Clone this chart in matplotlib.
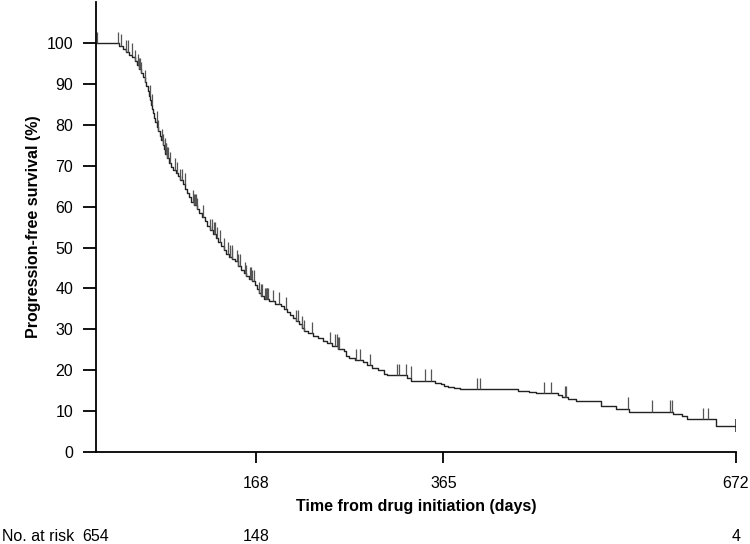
import numpy as np
import matplotlib
matplotlib.use('Agg')
import matplotlib.pyplot as plt
from matplotlib.transforms import blended_transform_factory

plt.rcParams['font.family'] = ['Liberation Sans', 'DejaVu Sans']

# step knots of the Kaplan-Meier curve (days, % progression-free)
times = [0, 24, 28, 31, 35, 38, 41, 43, 45, 47, 49, 51, 53, 54.5, 56, 57, 58, 59, 60, 61,
         62, 64, 65.5, 67, 68.5, 70, 71, 73, 75, 77, 79, 81, 84, 86, 88, 91, 94, 96, 98, 100,
         103, 106, 108, 111, 114, 117, 120, 123, 126, 128, 131, 134, 137, 140, 143, 146, 149,
         152, 155, 158, 161, 164, 167, 169, 171, 173, 176, 182, 188, 194, 198, 201, 204, 207,
         210, 213, 216, 219, 223, 228, 233, 238, 243, 248, 254, 260, 263, 266, 272, 280, 285,
         290, 296, 302, 306, 327, 331, 356, 362, 366, 370, 376, 382, 443, 455, 462, 485, 490,
         496, 504, 530, 546, 560, 606, 616, 621, 651, 672]
surv = [100, 99.3, 98.6, 97.9, 97.2, 96.5, 95.6, 94.6, 93.6, 92.6, 91.6, 90.6, 89.5, 88.3,
        87.0, 86.0, 84.8, 83.8, 83.0, 81.8, 80.6, 79.6, 78.5, 77.4, 76.2, 75.0, 74.0, 72.8,
        71.8, 70.6, 69.8, 69.0, 68.2, 67.4, 66.5, 65.5, 64.4, 63.3, 62.3, 61.2, 60.3, 59.4,
        58.5, 57.5, 56.5, 55.3, 54.3, 53.4, 52.3, 51.4, 50.3, 49.5, 48.5, 47.8, 47.2, 46.6,
        45.6, 44.6, 43.7, 43.0, 42.4, 41.8, 40.8, 39.8, 38.8, 38.2, 37.4, 36.9, 36.3, 35.8,
        35.0, 34.2, 33.6, 32.8, 32.0, 31.2, 30.4, 29.5, 29.0, 28.5, 27.9, 27.2, 26.6, 26.0,
        25.3, 24.6, 23.6, 23.0, 22.5, 22.0, 21.2, 20.5, 20.0, 19.2, 18.8, 18.2, 17.4, 17.0,
        16.6, 16.2, 15.9, 15.6, 15.4, 14.9, 14.6, 14.4, 13.9, 13.4, 13.0, 12.5, 11.2, 10.6,
        9.9, 9.3, 8.8, 8.0, 6.4, 6.4]

# censored observations (days)
censored = [1, 23.5, 26, 31.5, 34, 37.5, 41, 44.5, 45.5, 46.5, 47, 51.5, 56.7, 58.5, 63.7,
            65.5, 69, 70.7, 72.5, 73.5, 74, 75, 76, 77.7, 83, 85.4, 88, 90, 93.5, 102, 103,
            104, 105, 106, 112.7, 120, 122, 124, 125, 127, 130, 134, 139, 141, 142.5, 143,
            148, 149.5, 151, 156.5, 158, 162, 162.5, 164, 166, 171.5, 173, 174, 177.5, 178.5,
            179.5, 180, 181, 185.6, 192, 199.6, 210, 212.5, 216, 219, 227, 246, 250.7, 253,
            254.5, 255.6, 272.8, 277, 287.8, 316, 318, 326, 330.6, 345.6, 352, 400, 403, 471,
            478, 493, 494, 559, 583.7, 603, 605, 637.6, 643]
end_time = 672

xticks = [168, 365, 672]
yticks = list(range(0, 101, 10))
risk_times = [0, 168, 672]
risk_counts = [654, 148, 4]

fig = plt.figure(figsize=(7.5, 5.44), dpi=100)
ax = fig.add_axes([0.128, 0.169, 0.853, 0.827])

ax.step(times, surv, where='post', color='#222222', lw=1.0)

# censor marks sit on the curve and point upward
t_arr = np.array(times)
s_arr = np.array(surv)
idx = np.searchsorted(t_arr, censored, side='right') - 1
cs = s_arr[idx]
ax.vlines(censored, cs, cs + 2.8, color='#555555', lw=0.9)
s_end = s_arr[-1]
ax.vlines([end_time], s_end - 1.6, s_end + 1.8, color='#222222', lw=1.1)

ax.set_xlim(0, 672)
ax.set_ylim(0, 110)
ax.set_xticks(xticks)
ax.set_yticks(yticks)
for s in ['top', 'right']:
    ax.spines[s].set_visible(False)
for s in ['left', 'bottom']:
    ax.spines[s].set_linewidth(1.3)
ax.tick_params(axis='y', length=9.5, width=1.3, pad=7, labelsize=11.5)
ax.tick_params(axis='x', length=8, width=1.3, pad=9, labelsize=11.5)

ax.set_xlabel('Time from drug initiation (days)', fontsize=11.5, fontweight='bold', labelpad=6)
ax.set_ylabel('Progression-free survival (%)', fontsize=11.5, fontweight='bold', labelpad=4)

tr = blended_transform_factory(ax.transData, fig.transFigure)
fig.text(0.002, 0.0134, 'No. at risk', fontsize=11.5, va='center', ha='left')
for t, n in zip(risk_times, risk_counts):
    fig.text(t, 0.0134, str(n), fontsize=11.5, va='center', ha='center', transform=tr)

fig.savefig('out.png', dpi=100)
